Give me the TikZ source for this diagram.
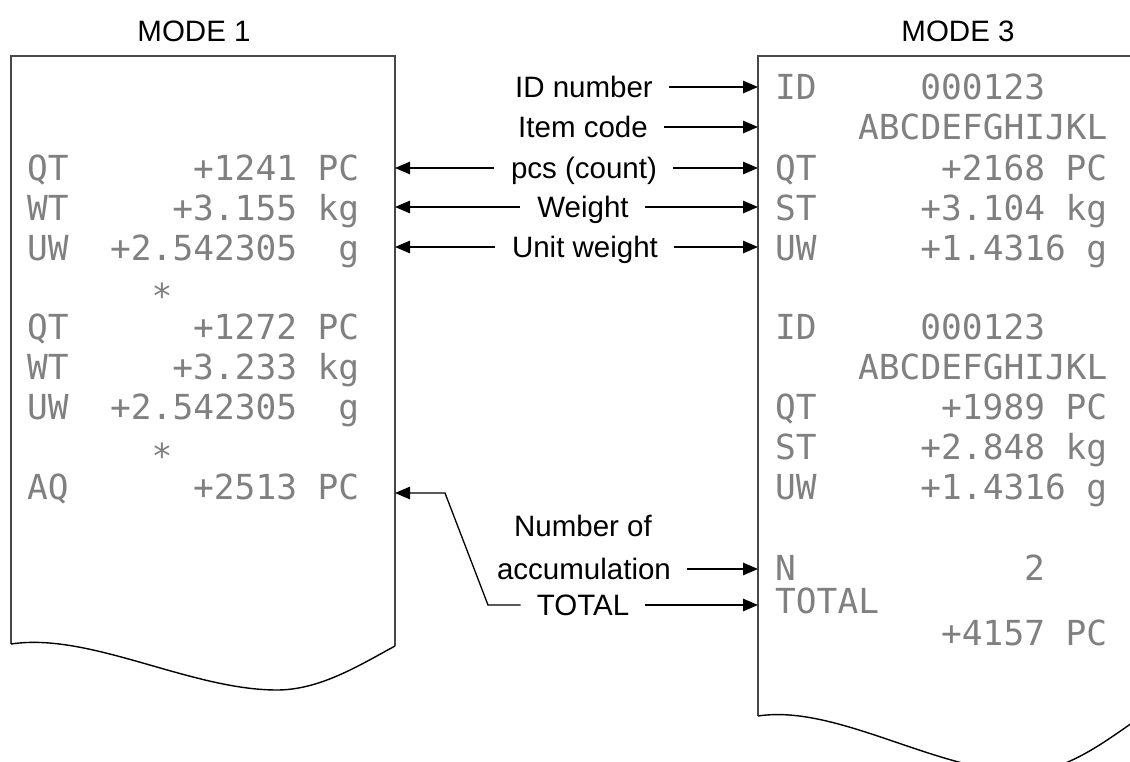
\documentclass[tikz,border=0pt]{standalone}
\usepackage{fontspec}
\setmainfont{Liberation Sans}
\newfontfamily\dotfont{DejaVu Sans Mono}
\usetikzlibrary{arrows.meta}
\newcounter{dmc}
% dot-matrix text: #1 = x of column 0, #2 = column, #3 = row centre y, #4 = text
\newcommand\dmtext[4]{\stepcounter{dmc}\node[dmstyle] (dm\arabic{dmc}) at ({#1+#2*20.75-2},{#3}) {#4};}
\begin{document}
\begin{tikzpicture}[x=1pt,y=-1pt,
  dmstyle/.style={font=\dotfont\fontsize{34.5}{40}\selectfont, text=black!50, inner sep=0pt, text height=25pt, text depth=0pt, anchor=west},
  lab/.style={font=\fontsize{29.5}{34}\selectfont, inner sep=0pt, text height=21pt, text depth=0pt, anchor=center},
  paperedge/.style={draw=black!72, line width=1.9pt},
  wave/.style={draw=black, line width=1.4pt},
  arr/.style={-{Triangle[length=15pt,width=12.5pt]}, line width=1.3pt}]
\clip (0,0) rectangle (1130,762);
% coordinates of paper edges
\coordinate (Lr) at (395,0);
\coordinate (Rl) at (758,0);
% left paper (MODE 1)
\draw[paperedge] (11,644) -- (11,56) -- (395,56) -- (395,646);
\draw[wave] (11,644) .. controls (90,632) and (190,690) .. (277,690)
            .. controls (320,690) and (360,665) .. (395,646);
% right paper (MODE 3)
\draw[paperedge] (758,716) -- (758,56) -- (1142,56) -- (1142,718);
\draw[wave] (758,716) .. controls (837,704) and (937,772) .. (1024,772)
            .. controls (1067,772) and (1107,740) .. (1142,716);
% titles
\node[lab] (m1) at (194,31) {MODE 1};
\node[lab] (m3) at (958,31) {MODE 3};
% left printout
\def\xl{29}
\dmtext{\xl}{0}{168}{QT}\dmtext{\xl}{8}{168}{+1241}\dmtext{\xl}{14}{168}{PC}
\dmtext{\xl}{0}{208}{WT}\dmtext{\xl}{7}{208}{+3.155}\dmtext{\xl}{14}{208}{kg}
\dmtext{\xl}{0}{248}{UW}\dmtext{\xl}{4}{248}{+2.542305}\dmtext{\xl}{15}{248}{g}
\dmtext{\xl}{6}{296}{*}
\dmtext{\xl}{0}{327}{QT}\dmtext{\xl}{8}{327}{+1272}\dmtext{\xl}{14}{327}{PC}
\dmtext{\xl}{0}{367}{WT}\dmtext{\xl}{7}{367}{+3.233}\dmtext{\xl}{14}{367}{kg}
\dmtext{\xl}{0}{407}{UW}\dmtext{\xl}{4}{407}{+2.542305}\dmtext{\xl}{15}{407}{g}
\dmtext{\xl}{6}{456}{*}
\dmtext{\xl}{0}{487}{AQ}\dmtext{\xl}{8}{487}{+2513}\dmtext{\xl}{14}{487}{PC}
% right printout
\def\xr{777}
\dmtext{\xr}{0}{87}{ID}\dmtext{\xr}{7}{87}{000123}
\dmtext{\xr}{4}{127}{ABCDEFGHIJKL}
\dmtext{\xr}{0}{168}{QT}\dmtext{\xr}{8}{168}{+2168}\dmtext{\xr}{14}{168}{PC}
\dmtext{\xr}{0}{208}{ST}\dmtext{\xr}{7}{208}{+3.104}\dmtext{\xr}{14}{208}{kg}
\dmtext{\xr}{0}{248}{UW}\dmtext{\xr}{7}{248}{+1.4316}\dmtext{\xr}{15}{248}{g}
\dmtext{\xr}{0}{327}{ID}\dmtext{\xr}{7}{327}{000123}
\dmtext{\xr}{4}{367}{ABCDEFGHIJKL}
\dmtext{\xr}{0}{407}{QT}\dmtext{\xr}{8}{407}{+1989}\dmtext{\xr}{14}{407}{PC}
\dmtext{\xr}{0}{447}{ST}\dmtext{\xr}{7}{447}{+2.848}\dmtext{\xr}{14}{447}{kg}
\dmtext{\xr}{0}{487}{UW}\dmtext{\xr}{7}{487}{+1.4316}\dmtext{\xr}{15}{487}{g}
\dmtext{\xr}{0}{568}{N}\dmtext{\xr}{12}{568}{2}
\dmtext{\xr}{0}{601}{TOTAL}
\dmtext{\xr}{8}{633}{+4157}\dmtext{\xr}{14}{633}{PC}
% labels
\node[lab] (lid) at (584,87) {ID number};
\node[lab] (lic) at (583,127) {Item code};
\node[lab] (lpcs) at (584,168) {pcs (count)};
\node[lab] (lw) at (583,207) {Weight};
\node[lab] (luw) at (585,247) {Unit weight};
\node[lab] (lnum) at (583,526) {Number of};
\node[lab] (lacc) at (584,569) {accumulation};
\node[lab] (ltot) at (583,605) {TOTAL};
% arrows to MODE 3
\foreach \n in {lid,lic,lpcs,lw,luw,lacc,ltot}
  \draw[arr] ([xshift=16pt]\n.east) -- (\n.east -| Rl);
% arrows to MODE 1
\foreach \n in {lpcs,lw,luw}
  \draw[arr] ([xshift=-17pt]\n.west) -- (\n.west -| Lr);
% TOTAL to AQ
\coordinate (b1) at (488,605);
\coordinate (b2) at (445,493);
\draw[arr] ([xshift=-16pt]ltot.west) -- (b1) -- (b2) -- (b2 -| Lr);
\end{tikzpicture}
\end{document}
